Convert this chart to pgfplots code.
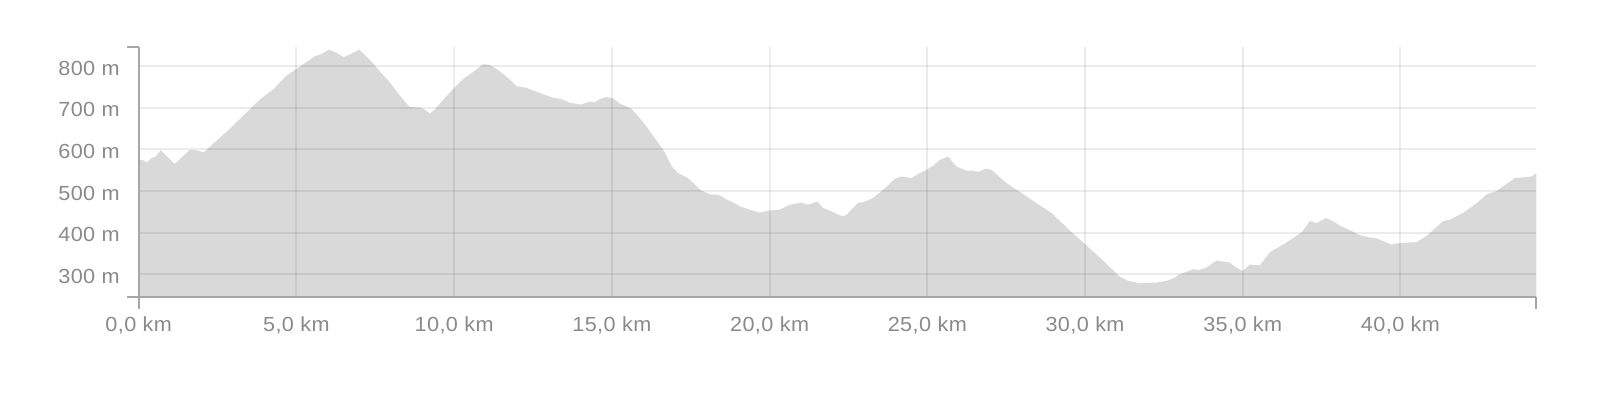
\documentclass[border=0pt]{standalone}
\usepackage{fontspec}
\setmainfont{Liberation Sans}[FakeStretch=1.06, LetterSpace=2]
\usepackage{pgfplots}
\pgfplotsset{compat=1.18}
\definecolor{fillgray}{HTML}{D9D9D9}
\definecolor{axisgray}{HTML}{A6A6A6}
\definecolor{labelgray}{HTML}{8A8A8A}
\begin{document}
\begin{tikzpicture}
\path[use as bounding box] (0,0) rectangle (799pt,206pt);
\begin{axis}[
  at={(69.35pt,57.65pt)}, anchor=south west,
  scale only axis, width=698.85pt, height=125pt,
  xmin=0, xmax=44.31, ymin=246, ymax=847,
  axis x line=bottom, axis y line=left,
  axis line style={-, draw=axisgray, line width=1pt},
  every outer x axis line/.append style={-},
  every outer y axis line/.append style={-},
  xtick={0,5,10,15,20,25,30,35,40},
  xticklabels={{0,0 km},{5,0 km},{10,0 km},{15,0 km},{20,0 km},{25,0 km},{30,0 km},{35,0 km},{40,0 km}},
  ytick={300,400,500,600,700,800},
  yticklabels={300 m,400 m,500 m,600 m,700 m,800 m},
  major tick length=0pt,
  tick align=outside,
  extra x ticks={0,44.31}, extra x tick labels={},
  extra y ticks={246,847}, extra y tick labels={},
  extra tick style={grid=none, major tick length=6pt, tick style={draw=axisgray, line width=1pt}},
  grid=major, grid style={black, opacity=0.075, line width=1pt},
  axis on top,
  tick label style={text=labelgray, font=\fontsize{10.2pt}{12pt}\selectfont},
  xticklabel style={anchor=north, inner sep=0pt, yshift=-10pt},
  yticklabel style={anchor=east, inner sep=0pt, xshift=-9.3pt, yshift=-1pt},
]
\addplot[fill=fillgray, draw=none] coordinates {
(0,573.5) (0.106,575) (0.264,569) (0.40,579) (0.54,583) (0.70,598) (1.14,565)
(1.62,599) (1.83,598) (2.06,593) (2.89,650) (3.84,720) (4.26,744) (4.68,777)
(4.97,792) (5.32,810) (5.58,824) (5.79,829) (6.03,840) (6.27,832) (6.50,822)
(6.74,830) (6.99,840) (7.32,816) (7.64,788) (7.96,761) (8.28,729) (8.59,702)
(8.91,701) (9.07,696) (9.23,686) (9.39,696) (9.66,720) (10.0,748) (10.28,769)
(10.60,786) (10.92,805) (11.13,803) (11.34,794) (11.61,778) (11.82,764) (11.97,752)
(12.29,748) (12.71,736) (13.14,724) (13.40,721) (13.67,712) (14.03,708) (14.30,715)
(14.46,713) (14.62,721) (14.82,726) (15.04,723) (15.25,710) (15.62,698) (15.83,680)
(16.10,655) (16.36,627) (16.63,599) (16.90,559) (17.10,543) (17.37,533) (17.58,520)
(17.79,503) (18.11,492) (18.37,491) (18.63,480) (18.84,473) (19.06,463) (19.37,455)
(19.69,448) (19.99,453) (20.32,455) (20.64,467) (21.01,472) (21.22,467) (21.51,475)
(21.70,459) (21.91,453) (22.12,445) (22.33,439) (22.44,443) (22.81,472) (22.97,473)
(23.28,483) (23.60,503) (23.97,529) (24.18,535) (24.34,533) (24.50,531) (24.66,539)
(24.97,551) (25.19,561) (25.40,575) (25.66,583) (25.92,559) (26.24,549) (26.45,549)
(26.61,546) (26.86,554) (27.03,551) (27.51,519) (27.93,498) (28.46,471) (28.94,447)
(29.52,405) (30.0,372) (30.57,333) (31.10,294) (31.37,284) (31.74,278) (32.27,280)
(32.58,284) (32.85,292) (33.0,300) (33.43,312) (33.59,310) (33.85,316) (34.17,333)
(34.48,329) (34.59,328) (34.75,318) (34.99,308) (35.23,323) (35.44,322) (35.54,321)
(35.86,353) (36.34,374) (36.86,400) (37.13,428) (37.34,423) (37.64,435) (37.87,427)
(38.08,417) (38.45,404) (38.71,394) (38.98,389) (39.24,386) (39.45,380) (39.72,371)
(39.88,374) (40.19,376) (40.51,377) (40.83,392) (41.15,414) (41.36,428) (41.57,431)
(42.0,448) (42.42,471) (42.73,492) (43.05,500) (43.32,515) (43.63,531) (43.90,533)
(44.16,535) (44.31,543)
} \closedcycle;
\end{axis}
\end{tikzpicture}
\end{document}
